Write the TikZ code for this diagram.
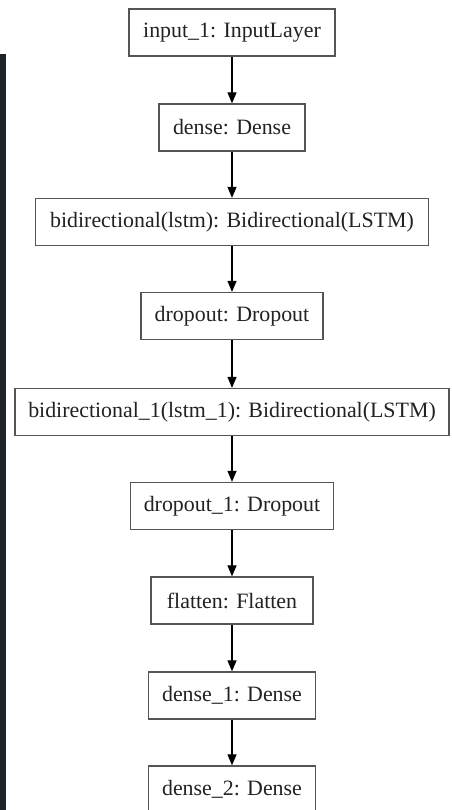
\documentclass[tikz,border=0pt]{standalone}
\usepackage{fontspec}
\setmainfont{Liberation Serif}
\usetikzlibrary{arrows.meta}
\definecolor{boxline}{HTML}{555555}
\definecolor{txt}{HTML}{222222}
\definecolor{strip}{HTML}{1F2329}
\begin{document}
\begin{tikzpicture}[x=1pt,y=1pt,
  layer/.style={draw=boxline, line width=1.3pt, fill=white, text=txt,
    minimum height=47pt, inner sep=0pt,
    font=\fontsize{21.9}{24}\selectfont},
  flow/.style={draw=black, line width=1.2pt, -{Triangle[length=11pt,width=9pt]}}]
\useasboundingbox (0,0) rectangle (451,-810);
\clip (0,0) rectangle (451,-810);
\fill[white] (0,0) rectangle (451,-810);
\fill[strip] (0,-54) rectangle (6,-810);
\node[layer, minimum width=206pt] (n1) at (232,-32.5) {input\_1: InputLayer};
\node[layer, minimum width=146pt] (n2) at (232,-127.5) {dense: Dense};
\node[layer, minimum width=393pt] (n3) at (232,-222) {bidirectional(lstm): Bidirectional(LSTM)};
\node[layer, minimum width=182pt] (n4) at (232,-316) {dropout: Dropout};
\node[layer, minimum width=434pt] (n5) at (232,-412) {bidirectional\_1(lstm\_1): Bidirectional(LSTM)};
\node[layer, minimum width=203pt] (n6) at (232,-506) {dropout\_1: Dropout};
\node[layer, minimum width=162pt] (n7) at (232,-600.5) {flatten: Flatten};
\node[layer, minimum width=167pt] (n8) at (232,-695.5) {dense\_1: Dense};
\node[layer, minimum width=167pt] (n9) at (232,-789.5) {dense\_2: Dense};
\foreach \a/\b in {n1/n2,n2/n3,n3/n4,n4/n5,n5/n6,n6/n7,n7/n8,n8/n9}
  \draw[flow] (\a.south) -- (\b.north);
\end{tikzpicture}
\end{document}
